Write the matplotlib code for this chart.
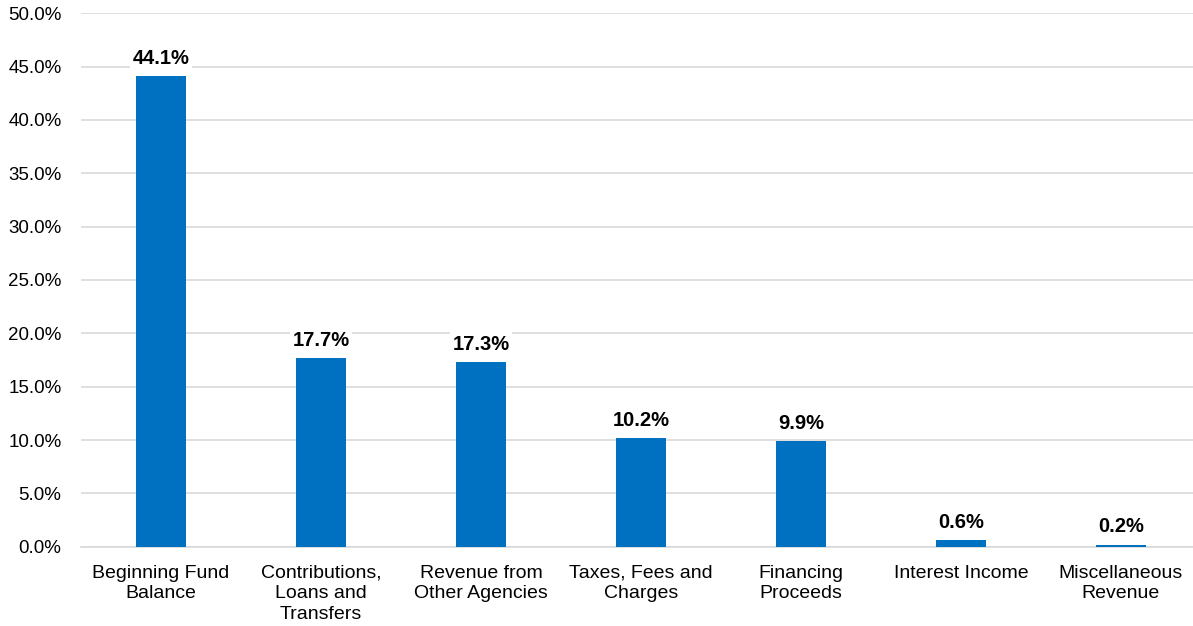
import matplotlib
matplotlib.use("Agg")
import matplotlib.pyplot as plt
from matplotlib.ticker import FuncFormatter, MultipleLocator

categories = ["Beginning Fund\nBalance", "Contributions,\nLoans and\nTransfers",
              "Revenue from\nOther Agencies", "Taxes, Fees and\nCharges",
              "Financing\nProceeds", "Interest Income", "Miscellaneous\nRevenue"]
values = [44.1, 17.7, 17.3, 10.2, 9.9, 0.6, 0.2]

plt.rcParams['font.family'] = ['Liberation Sans', 'DejaVu Sans']

fig = plt.figure(figsize=(11.93, 6.26), dpi=100)
ax = fig.add_axes([81/1193, 0.1267, 1120/1193, 0.8521])

x = list(range(len(categories)))
ax.bar(x, values, width=0.3125, color='#0070C0', zorder=3)
ax.set_xlim(-0.5, len(categories) - 0.5)
ax.set_ylim(0, 50)
ax.yaxis.set_major_locator(MultipleLocator(5))
ax.yaxis.set_major_formatter(FuncFormatter(lambda v, p: f"{v:.1f}%"))
ax.grid(axis='y', color='#d9d9d9', linewidth=1.2, zorder=0)
ax.set_axisbelow(True)
for s in ['top', 'right', 'left']:
    ax.spines[s].set_visible(False)
ax.spines['bottom'].set_color('#d9d9d9')
ax.spines['bottom'].set_linewidth(1.2)
ax.tick_params(axis='y', length=0, pad=14, labelsize=13.5, labelcolor='#000000')
ax.set_xticks(x)
ax.set_xticklabels(categories, fontsize=14, linespacing=1.28)
ax.tick_params(axis='x', length=0, pad=13)

for xi, v in zip(x, values):
    ax.annotate(f"{v:.1f}%", (xi, v), xytext=(0, 6), textcoords='offset points',
                ha='center', va='bottom', fontsize=14.5, fontweight='bold',
                bbox=dict(facecolor='white', edgecolor='none', pad=2), zorder=4)

fig.savefig("out.png", dpi=100)
